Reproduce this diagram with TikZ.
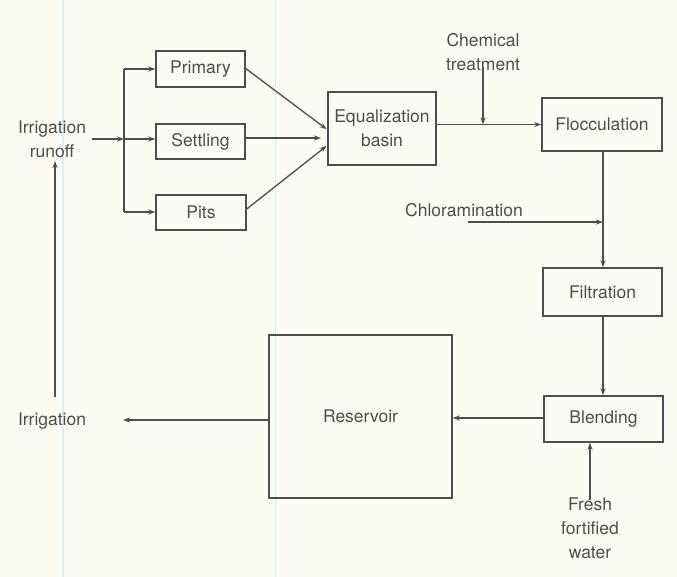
\documentclass[tikz,border=0pt]{standalone}
\usepackage{fontspec}
\setmainfont{TeX Gyre Heros}
\usetikzlibrary{arrows.meta}
\definecolor{paper}{RGB}{251,251,243}
\definecolor{ink}{RGB}{78,76,78}
\definecolor{fold}{RGB}{222,240,238}
\tikzset{
  box/.style={draw=ink, line width=1.5pt, rectangle, inner sep=0pt, align=center, text=ink},
  lbl/.style={inner sep=0pt, align=center, text=ink},
  ln/.style={draw=ink, line width=1.3pt},
  arr/.style={ln, -{Stealth[length=7pt,width=5pt]}},
}
\begin{document}
\begin{tikzpicture}[x=1pt,y=-1pt, font=\fontsize{17.5}{24}\selectfont]
\fill[paper] (0,0) rectangle (677,577);
\useasboundingbox (0,0) rectangle (677,577);
\draw[fold, line width=1.2pt] (63,0) -- (63,577);
\draw[fold, line width=0.8pt] (275,0) -- (275,577);

% boxes
\node[box, minimum width=89pt, minimum height=36pt] (prim) at (200.5,69) {Primary};
\node[box, minimum width=89pt, minimum height=35pt] (settl) at (200.5,141.5) {Settling};
\node[box, minimum width=90pt, minimum height=35pt] (pits) at (201,212.5) {Pits};
\node[box, minimum width=108pt, minimum height=73pt] (eq) at (382,128.5) {Equalization\\basin};
\node[box, minimum width=120pt, minimum height=53pt] (floc) at (602,124.5) {Flocculation};
\node[box, minimum width=119pt, minimum height=48pt] (filt) at (602.5,292) {Filtration};
\node[box, minimum width=119pt, minimum height=46pt] (blend) at (603.5,419) {Blending};
\node[box, minimum width=183pt, minimum height=163pt] (res) at (360.5,416.5) {Reservoir};

% labels
\node[lbl] (runoff) at (52,139) {Irrigation\\runoff};
\node[lbl] (irr) at (52,421) {Irrigation};
\node[lbl] (chem) at (483,52) {Chemical\\treatment};
\node[lbl] (chlor) at (464,210) {Chloramination};
\node[lbl] (fresh) at (590,528) {Fresh\\fortified\\water};

% coordinates
\coordinate (bt) at (124,69);
\coordinate (bm) at (124,139);
\coordinate (bb) at (124,212);
\coordinate (ct) at (483,124.5);
\coordinate (ch0) at (468,222);
\coordinate (ch1) at (603,222);
\coordinate (irrend) at (123,420);
\coordinate (upb) at (55,397);
\coordinate (upt) at (55,161);

% connectors
\draw[arr] ([xshift=6pt]runoff.east |- bm) -- (bm);
\draw[ln] (bt) -- (bb);
\draw[arr] (bt) -- (prim.west);
\draw[arr] (bm) -- (bm -| settl.west);
\draw[arr] (bb) -- (bb -| pits.west);
\draw[arr, shorten >=3pt] (245,68) -- (329,131);
\draw[arr, shorten >=8pt] (245,138) -- (329,138);
\draw[arr, shorten >=3pt] (245.5,210) -- (329,144);
\draw[arr] (eq.east |- floc.west) -- (floc.west);
\draw[arr] ([yshift=4pt]chem.south) -- (ct);
\draw[arr] (floc.south -| ch1) -- (filt.north -| ch1);
\draw[arr] (ch0) -- (ch1);
\draw[arr] (filt.south -| ch1) -- (blend.north -| ch1);
\draw[arr] (blend.west |- 0,418) -- (res.east |- 0,418);
\draw[arr] ([yshift=-3pt]fresh.north) -- (fresh.north |- blend.south);
\draw[arr] (res.west |- irrend) -- (irrend);
\draw[arr] (upb) -- (upt);
\end{tikzpicture}
\end{document}
